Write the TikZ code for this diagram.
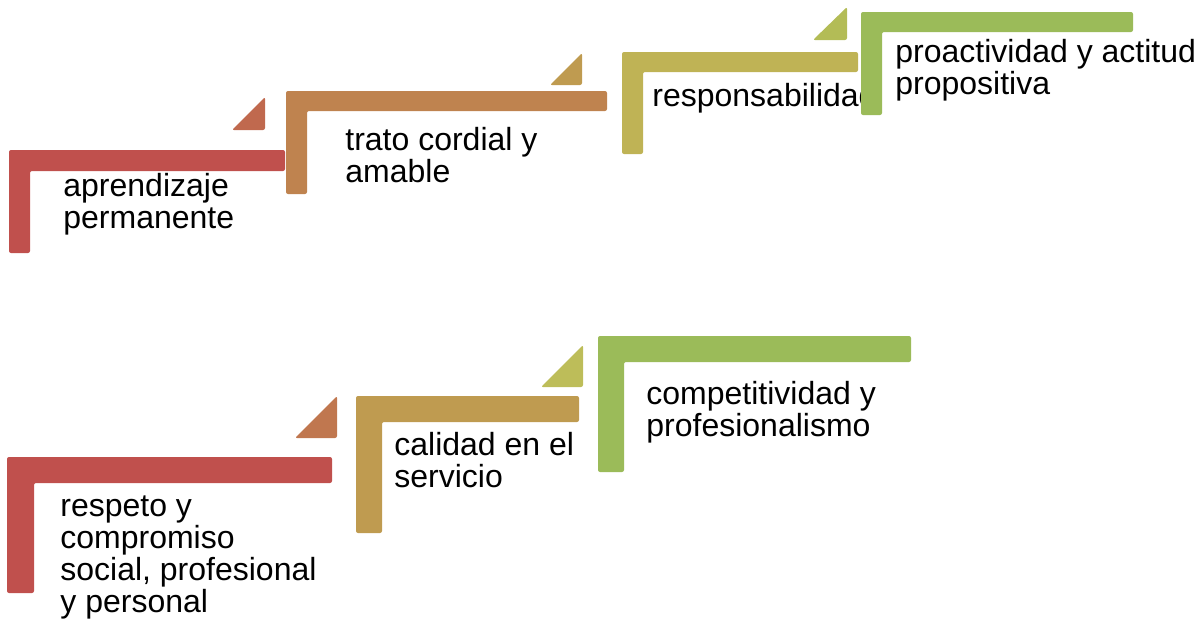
\documentclass[tikz,border=0pt]{standalone}
\usepackage{fontspec}
\setmainfont{Liberation Sans}
\definecolor{stepred}{HTML}{C0504D}
\definecolor{stepcopper}{HTML}{C0694E}
\definecolor{steprust}{HTML}{C0774F}
\definecolor{steporange}{HTML}{BF834F}
\definecolor{stepbrown}{HTML}{BF9B50}
\definecolor{stepolive}{HTML}{BFB355}
\definecolor{steplime}{HTML}{B3BC56}
\definecolor{stepkhaki}{HTML}{BDBD59}
\definecolor{stepgreen}{HTML}{9BBB59}
\tikzset{
  steplabel/.style={anchor=base west, inner sep=0pt, align=left,
    font=\fontsize{16}{16}\selectfont},
  stepshape/.style={rounded corners=1pt}
}
\begin{document}
\begin{tikzpicture}[x=0.5pt, y=-0.5pt]
  \useasboundingbox (0,0) rectangle (1200,622);
  % upper row (label anchors sit on the last line)
  \fill[stepred, stepshape] (9,150) -- (285,150) -- (285,171) -- (30,171) -- (30,253) -- (9,253) -- cycle;
  \node[steplabel] (aprendizaje) at (63,228) {aprendizaje\\permanente};
  \fill[stepcopper, stepshape] (232,130) -- (265,130) -- (265,97) -- cycle;
  \fill[steporange, stepshape] (286,91) -- (607,91) -- (607,111) -- (307,111) -- (307,194) -- (286,194) -- cycle;
  \node[steplabel] (trato) at (345,182) {trato cordial y\\amable};
  \fill[stepbrown, stepshape] (550,85) -- (582,85) -- (582,53) -- cycle;
  \fill[stepolive, stepshape] (622,52) -- (858,52) -- (858,72) -- (643,72) -- (643,154) -- (622,154) -- cycle;
  \node[steplabel] (responsabilidad) at (652,106) {responsabilidad};
  \fill[steplime, stepshape] (813,40) -- (847,40) -- (847,7) -- cycle;
  \fill[stepgreen, stepshape] (861,12) -- (1133,12) -- (1133,32) -- (882,32) -- (882,115) -- (861,115) -- cycle;
  \node[steplabel] (proactividad) at (895,94) {proactividad y actitud\\propositiva};
  % lower row
  \fill[stepred, stepshape] (7,457) -- (332,457) -- (332,483) -- (34,483) -- (34,593) -- (7,593) -- cycle;
  \node[steplabel] (respeto) at (60,612) {respeto y\\compromiso\\social, profesional\\y personal};
  \fill[steprust, stepshape] (295,438) -- (337,438) -- (337,396) -- cycle;
  \fill[stepbrown, stepshape] (356,396) -- (579,396) -- (579,422) -- (382,422) -- (382,533) -- (356,533) -- cycle;
  \node[steplabel] (calidad) at (394,487) {calidad en el\\servicio};
  \fill[stepkhaki, stepshape] (541,387) -- (583,387) -- (583,345) -- cycle;
  \fill[stepgreen, stepshape] (598,336) -- (911,336) -- (911,362) -- (624,362) -- (624,472) -- (598,472) -- cycle;
  \node[steplabel] (competitividad) at (646,436) {competitividad y\\profesionalismo};
\end{tikzpicture}
\end{document}
